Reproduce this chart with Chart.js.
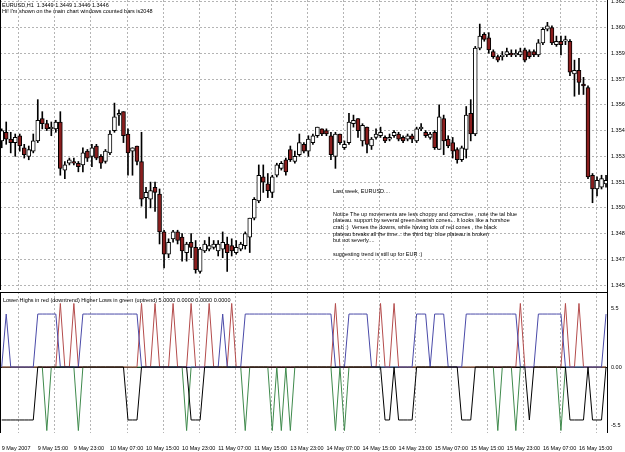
<!DOCTYPE html>
<html>
<head>
<meta charset="utf-8">
<script src="https://cdn.jsdelivr.net/npm/chart.js@4.4.0/dist/chart.umd.min.js"></script>
<style>
  html, body { margin: 0; padding: 0; background: #fff; }
  #wrap { position: relative; width: 625px; height: 452px; overflow: hidden; background: #fff; }
  #price { position: absolute; left: 0; top: 0; }
  #trend { position: absolute; left: 0; top: 290px; }
</style>
</head>
<body>
<div id="wrap">
  <canvas id="price" width="625" height="290"></canvas>
  <canvas id="trend" width="625" height="162"></canvas>
</div>
<script>
// EURUSD H1 candles, 9 May 07:00 .. 16 May 21:00
const opens = [
  1.3539, 1.3544, 1.3540, 1.3538, 1.3542, 1.3535, 1.3530, 1.3533, 1.3539, 1.3552,
  1.3549, 1.3546, 1.3546, 1.3550, 1.3522, 1.3526, 1.3527, 1.3526, 1.3525, 1.3533,
  1.3530, 1.3536, 1.3530, 1.3527, 1.3532, 1.3545, 1.3554, 1.3556, 1.3543, 1.3533,
  1.3536, 1.3527, 1.3506, 1.3505, 1.3512, 1.3508, 1.3486, 1.3473, 1.3482, 1.3486,
  1.3483, 1.3474, 1.3480, 1.3477, 1.3463, 1.3475, 1.3476, 1.3477, 1.3475, 1.3476,
  1.3479, 1.3478, 1.3474, 1.3476, 1.3478, 1.3483, 1.3494, 1.3504, 1.3518, 1.3514,
  1.3509, 1.3519, 1.3523, 1.3528, 1.3534, 1.3527, 1.3531, 1.3537, 1.3533, 1.3538,
  1.3542, 1.3546, 1.3545, 1.3542, 1.3530, 1.3543, 1.3535, 1.3538, 1.3549, 1.3552,
  1.3539, 1.3547, 1.3536, 1.3541, 1.3542, 1.3541, 1.3540, 1.3542, 1.3543, 1.3541,
  1.3540, 1.3542, 1.3539, 1.3546, 1.3544, 1.3541, 1.3544, 1.3534, 1.3552, 1.3540,
  1.3538, 1.3534, 1.3528, 1.3534, 1.3555, 1.3543, 1.3593, 1.3601, 1.3599, 1.3591,
  1.3588, 1.3588, 1.3589, 1.3590, 1.3589, 1.3589, 1.3592, 1.3591, 1.3591, 1.3589,
  1.3596, 1.3604, 1.3605, 1.3595, 1.3597, 1.3597, 1.3597, 1.3578, 1.3580, 1.3572,
  1.3570, 1.3519, 1.3511, 1.3512, 1.3514
];
const highs = [
  1.3546, 1.3550, 1.3544, 1.3543, 1.3543, 1.3537, 1.3536, 1.3543, 1.3563, 1.3556,
  1.3551, 1.3550, 1.3551, 1.3556, 1.3527, 1.3529, 1.3529, 1.3527, 1.3535, 1.3534,
  1.3537, 1.3537, 1.3531, 1.3534, 1.3545, 1.3561, 1.3557, 1.3556, 1.3546, 1.3535,
  1.3536, 1.3544, 1.3512, 1.3515, 1.3515, 1.3511, 1.3487, 1.3482, 1.3487, 1.3487,
  1.3485, 1.3480, 1.3485, 1.3481, 1.3477, 1.3481, 1.3483, 1.3481, 1.3481, 1.3486,
  1.3483, 1.3482, 1.3481, 1.3480, 1.3486, 1.3494, 1.3506, 1.3525, 1.3525, 1.3520,
  1.3519, 1.3526, 1.3527, 1.3529, 1.3536, 1.3533, 1.3543, 1.3538, 1.3542, 1.3543,
  1.3547, 1.3546, 1.3546, 1.3544, 1.3544, 1.3543, 1.3539, 1.3555, 1.3554, 1.3552,
  1.3549, 1.3547, 1.3541, 1.3546, 1.3547, 1.3542, 1.3543, 1.3545, 1.3544, 1.3542,
  1.3543, 1.3543, 1.3547, 1.3549, 1.3545, 1.3544, 1.3545, 1.3560, 1.3554, 1.3542,
  1.3541, 1.3535, 1.3536, 1.3559, 1.3563, 1.3594, 1.3607, 1.3602, 1.3602, 1.3592,
  1.3589, 1.3591, 1.3593, 1.3592, 1.3592, 1.3593, 1.3593, 1.3592, 1.3592, 1.3598,
  1.3605, 1.3608, 1.3606, 1.3600, 1.3600, 1.3600, 1.3598, 1.3586, 1.3587, 1.3576,
  1.3571, 1.3520, 1.3518, 1.3519, 1.3519
];
const lows = [
  1.3535, 1.3537, 1.3532, 1.3530, 1.3533, 1.3529, 1.3528, 1.3532, 1.3538, 1.3546,
  1.3545, 1.3542, 1.3544, 1.3519, 1.3517, 1.3525, 1.3525, 1.3521, 1.3521, 1.3527,
  1.3524, 1.3528, 1.3523, 1.3526, 1.3531, 1.3544, 1.3548, 1.3538, 1.3519, 1.3519,
  1.3525, 1.3501, 1.3494, 1.3500, 1.3498, 1.3479, 1.3465, 1.3471, 1.3480, 1.3479,
  1.3469, 1.3469, 1.3471, 1.3462, 1.3462, 1.3474, 1.3475, 1.3476, 1.3472, 1.3471,
  1.3463, 1.3472, 1.3473, 1.3475, 1.3476, 1.3474, 1.3493, 1.3503, 1.3509, 1.3506,
  1.3506, 1.3518, 1.3522, 1.3519, 1.3527, 1.3526, 1.3530, 1.3532, 1.3530, 1.3537,
  1.3541, 1.3542, 1.3542, 1.3528, 1.3523, 1.3537, 1.3534, 1.3537, 1.3547, 1.3541,
  1.3536, 1.3532, 1.3534, 1.3540, 1.3541, 1.3538, 1.3539, 1.3541, 1.3539, 1.3538,
  1.3539, 1.3538, 1.3538, 1.3545, 1.3541, 1.3540, 1.3534, 1.3534, 1.3531, 1.3535,
  1.3529, 1.3526, 1.3527, 1.3529, 1.3539, 1.3542, 1.3592, 1.3597, 1.3590, 1.3587,
  1.3585, 1.3586, 1.3588, 1.3588, 1.3588, 1.3588, 1.3585, 1.3587, 1.3588, 1.3588,
  1.3595, 1.3603, 1.3595, 1.3594, 1.3589, 1.3595, 1.3577, 1.3565, 1.3566, 1.3566,
  1.3517, 1.3503, 1.3507, 1.3511, 1.3512
];
const closes = [
  1.3545, 1.3540, 1.3538, 1.3541, 1.3536, 1.3531, 1.3534, 1.3539, 1.3551, 1.3549,
  1.3546, 1.3547, 1.3550, 1.3523, 1.3525, 1.3528, 1.3526, 1.3524, 1.3532, 1.3529,
  1.3535, 1.3529, 1.3526, 1.3533, 1.3543, 1.3553, 1.3555, 1.3542, 1.3532, 1.3535,
  1.3527, 1.3505, 1.3509, 1.3510, 1.3509, 1.3486, 1.3473, 1.3480, 1.3486, 1.3481,
  1.3475, 1.3479, 1.3477, 1.3464, 1.3476, 1.3479, 1.3478, 1.3479, 1.3479, 1.3480,
  1.3474, 1.3475, 1.3477, 1.3479, 1.3485, 1.3494, 1.3505, 1.3519, 1.3515, 1.3510,
  1.3518, 1.3525, 1.3526, 1.3521, 1.3528, 1.3530, 1.3538, 1.3533, 1.3540, 1.3542,
  1.3547, 1.3543, 1.3543, 1.3531, 1.3543, 1.3538, 1.3537, 1.3550, 1.3551, 1.3545,
  1.3548, 1.3537, 1.3540, 1.3543, 1.3544, 1.3539, 1.3541, 1.3544, 1.3540, 1.3539,
  1.3542, 1.3540, 1.3546, 1.3547, 1.3542, 1.3543, 1.3535, 1.3553, 1.3539, 1.3536,
  1.3533, 1.3528, 1.3535, 1.3554, 1.3543, 1.3593, 1.3600, 1.3598, 1.3592, 1.3588,
  1.3586, 1.3589, 1.3591, 1.3589, 1.3590, 1.3591, 1.3586, 1.3588, 1.3589, 1.3596,
  1.3604, 1.3606, 1.3596, 1.3597, 1.3595, 1.3598, 1.3579, 1.3580, 1.3573, 1.3571,
  1.3518, 1.3511, 1.3516, 1.3517, 1.3516
];

// indicator buffers (blue = up plateau, black = down plateau, red / green = cones)
const bluePlateau = [
  0, 5, 0, 0, 0, 0, 0, 0, 5, 5,   5, 5, 5, 0, 0, 0, 0, 0, 5, 5,
  5, 5, 5, 5, 5, 5, 5, 5, 5, 5,   5, 0, 0, 0, 0, 0, 0, 0, 0, 0,
  0, 0, 0, 0, 0, 0, 0, 0, 0, 5,   0, 0, 0, 0, 5, 5, 5, 5, 5, 5,
  5, 5, 5, 5, 5, 5, 5, 5, 5, 5,   5, 5, 5, 5, 0, 0, 0, 5, 5, 5,
  5, 5, 0, 0, 0, 0, 0, 0, 0, 0,   0, 0, 5, 5, 5, 0, 5, 5, 5, 0,
  0, 0, 0, 5, 5, 5, 5, 5, 5, 5,   5, 5, 5, 5, 5, 0, 0, 0, 0, 5,
  5, 5, 5, 5, 5, 0, 0, 0, 0, 0,   0, 0, 0, 0, 5
];
const redCones = [
  0, 0, 0, 0, 0, 0, 0, 0, 0, 0,   0, 0, 0, 6, 0, 0, 6, 0, 0, 0,
  0, 0, 0, 0, 0, 0, 0, 0, 0, 0,   0, 6, 0, 0, 6, 0, 0, 0, 6, 0,
  0, 0, 6, 0, 0, 0, 6, 0, 0, 0,   0, 6, 0, 0, 0, 0, 0, 0, 0, 0,
  0, 0, 0, 0, 0, 0, 0, 0, 0, 0,   0, 0, 0, 0, 6, 0, 0, 0, 0, 0,
  0, 0, 0, 0, 6, 0, 0, 6, 0, 0,   0, 0, 0, 0, 0, 0, 0, 0, 0, 0,
  0, 0, 0, 0, 0, 0, 0, 0, 0, 0,   0, 0, 0, 0, 0, 6, 0, 0, 0, 0,
  0, 0, 0, 0, 0, 6, 0, 0, 6, 0,   0, 0, 0, 0, 0
];
const greenCones = [
  0, 0, 0, 0, 0, 0, 0, 0, 0, 0,  -6, 0, 0, 0, 0, 0, 0,-6, 0, 0,
  0, 0, 0, 0, 0, 0, 0, 0, 0, 0,   0, 0, 0, 0, 0, 0, 0, 0, 0, 0,
  0,-6, 0, 0, 0, 0, 0, 0, 0, 0,   0, 0, 0, 0,-6, 0, 0, 0, 0, 0,
 -6, 0,-6, 0,-6, 0, 0, 0, 0, 0,   0, 0, 0, 0,-6, 0,-6, 0, 0, 0,
  0, 0, 0, 0, 0, 0, 0, 0, 0, 0,   0, 0, 0, 0, 0, 0, 0, 0, 0, 0,
  0, 0, 0, 0, 0, 0, 0, 0, 0, 0,  -6, 0, 0, 0,-6, 0, 0, 0, 0, 0,
  0, 0, 0, 0,-6, 0, 0, 0, 0, 0,   0, 0, 0, 0, 0
];
const blackPlateau = [
 -5,-5,-5,-5,-5,-5,-5,-5, 0, 0,   0, 0, 0, 0, 0, 0, 0, 0, 0, 0,
  0, 0, 0, 0, 0, 0, 0, 0,-5,-5,  -5, 0, 0, 0, 0, 0, 0, 0, 0, 0,
  0, 0,-5,-5,-5, 0, 0, 0, 0, 0,   0, 0, 0, 0, 0, 0, 0, 0, 0, 0,
  0, 0, 0, 0, 0, 0, 0, 0, 0, 0,   0, 0, 0, 0, 0, 0, 0, 0, 0, 0,
  0, 0, 0, 0, 0,-5,-5, 0,-5,-5,  -5,-5, 0, 0, 0, 0, 0, 0, 0, 0,
  0, 0,-5,-5,-5, 0, 0, 0, 0, 0,   0, 0, 0, 0, 0, 0, 0,-5, 0, 0,
  0, 0, 0, 0, 0, 0,-5,-5,-5,-5,   0,-5,-5,-5, 0
];

const timeLabels = [
  '9 May 2007', '9 May 15:00', '9 May 23:00', '10 May 07:00', '10 May 15:00',
  '10 May 23:00', '11 May 07:00', '11 May 15:00', '13 May 23:00', '14 May 07:00',
  '14 May 15:00', '14 May 23:00', '15 May 07:00', '15 May 15:00', '15 May 23:00',
  '16 May 07:00', '16 May 15:00'
];
const priceTicks = [1.3455, 1.3470, 1.3485, 1.3500, 1.3515, 1.3530, 1.3545, 1.3560, 1.3575, 1.3590, 1.3605, 1.3620];
const trendTicks = [5.5, 0, -5.5];
const trendTickLabels = ['5.5', '0.00', '-5.5'];

const headerLines = [
  'EURUSD,H1  1.3449 1.3449 1.3446 1.3446',
  "Hi! I'm shown on the main chart windows counted bars is2048"
];
const trendTitle = 'Lower Highs in red (downtrend) Higher Lows in green (uptrend) 5.0000 0.0000 0.0000 0.0000';
const noteLines = [
  ['Last week, EURUSD....', 191],
  ['Notice The up movements are less choppy and corrective , note the tal blue', 214],
  ['plateau. support by several green bearish cones... It looks like a horshoe', 220.7],
  ['crab :)  Verses the downs, while having lots of red cones , the black', 227.4],
  ['plateau breaks all the time... the third big  blue plateau is broken', 234.1],
  ['but not severly....', 240.8],
  ['suggesting trend is still up for EUR :)', 254]
];

// layout constants
const FONT = '"Liberation Sans", Arial, sans-serif';
const BAR_STEP = 4.51;
const AXIS_W = 17;
const X_MIN = -1.7 / BAR_STEP;
const X_MAX = X_MIN + (625 - AXIS_W) / BAR_STEP;
const GRID_SHIFT = 3.8;
const LABEL_EVERY = 8;

Chart.defaults.font.family = FONT;
Chart.defaults.font.size = 5.5;
Chart.defaults.color = '#000';

const gridTicks = [];
for (let v = GRID_SHIFT; v < X_MAX; v += LABEL_EVERY) gridTicks.push(v);

const bodies = opens.map((o, i) => ({ x: i, y: [o, closes[i]] }));
const wicks = highs.map((h, i) => ({ x: i, y: [lows[i], h] }));
const bodyColors = opens.map((o, i) => (closes[i] >= o ? '#ffffff' : '#8b1e1e'));

const frame = {
  id: 'frame',
  afterDraw(chart, args, opts) {
    const { ctx, chartArea: a } = chart;
    ctx.save();
    ctx.strokeStyle = '#000';
    ctx.lineWidth = 1;
    ctx.beginPath();
    ctx.moveTo(0.5, a.top);
    ctx.lineTo(0.5, a.bottom);
    ctx.moveTo(a.right - 0.5, 0);
    ctx.lineTo(a.right - 0.5, a.bottom);
    if (opts.top) {
      ctx.moveTo(0, a.top + 0.5);
      ctx.lineTo(a.right, a.top + 0.5);
    }
    ctx.stroke();
    ctx.restore();
  }
};

const priceText = {
  id: 'priceText',
  afterDraw(chart) {
    const { ctx } = chart;
    ctx.save();
    ctx.fillStyle = '#000';
    ctx.textBaseline = 'middle';
    ctx.font = '5.5px ' + FONT;
    ctx.fillText(headerLines[0], 2, 5);
    ctx.fillText(headerLines[1], 2, 11);
    noteLines.forEach(([text, y]) => ctx.fillText(text, 333, y));
    ctx.restore();
  }
};

const trendText = {
  id: 'trendText',
  afterDraw(chart) {
    const { ctx } = chart;
    ctx.save();
    ctx.fillStyle = '#000';
    ctx.textBaseline = 'middle';
    ctx.font = '5.5px ' + FONT;
    ctx.fillText(trendTitle, 3, 10);
    ctx.restore();
  }
};

new Chart(document.getElementById('price'), {
  type: 'bar',
  data: {
    datasets: [
      {
        label: 'Body',
        data: bodies,
        backgroundColor: bodyColors,
        borderColor: '#000',
        borderWidth: 1,
        borderSkipped: false,
        barThickness: 4,
        minBarLength: 1,
        grouped: false,
        order: 0
      },
      {
        label: 'Wick',
        data: wicks,
        backgroundColor: '#000',
        borderWidth: 0,
        barThickness: 1,
        grouped: false,
        order: 1
      }
    ]
  },
  options: {
    responsive: false,
    animation: false,
    layout: { padding: 0 },
    plugins: {
      legend: { display: false },
      tooltip: { enabled: false },
      frame: { top: false }
    },
    scales: {
      x: {
        type: 'linear',
        min: X_MIN,
        max: X_MAX,
        offset: false,
        afterBuildTicks: (s) => { s.ticks = gridTicks.map((v) => ({ value: v })); },
        afterFit: (s) => { s.height = 0; },
        ticks: { display: false },
        grid: { offset: false, color: '#b4b4b4', drawTicks: false },
        border: { display: false, dash: [2, 2] }
      },
      y: {
        position: 'right',
        min: 1.34522,
        max: 1.3621,
        afterBuildTicks: (s) => { s.ticks = priceTicks.map((v) => ({ value: v })); },
        afterFit: (s) => { s.width = AXIS_W; s.paddingTop = 0; s.paddingBottom = 0; },
        ticks: { padding: 3, callback: (v) => Number(v).toFixed(4) },
        grid: { color: '#b4b4b4', drawTicks: false },
        border: { display: false, dash: [2, 2] }
      }
    }
  },
  plugins: [frame, priceText]
});

const line = (label, values, color, order) => ({
  label,
  data: values.map((v, i) => ({ x: i, y: v })),
  borderColor: color,
  borderWidth: 1,
  pointRadius: 0,
  tension: 0,
  fill: false,
  order
});

new Chart(document.getElementById('trend'), {
  type: 'line',
  data: {
    datasets: [
      line('Up plateau', bluePlateau, '#4a4aa8', 1),
      line('Down plateau', blackPlateau, '#000000', 0),
      line('Lower highs', redCones, '#b44c4c', 2),
      line('Higher lows', greenCones, '#3f8a4c', 3)
    ]
  },
  options: {
    responsive: false,
    animation: false,
    layout: { padding: { top: 2 } },
    plugins: {
      legend: { display: false },
      tooltip: { enabled: false },
      frame: { top: true }
    },
    scales: {
      x: {
        type: 'linear',
        min: X_MIN,
        max: X_MAX,
        offset: false,
        afterBuildTicks: (s) => {
          s.ticks = timeLabels.map((t, k) => ({ value: k * LABEL_EVERY }));
        },
        afterFit: (s) => { s.height = 19; s.paddingLeft = 0; s.paddingRight = 0; },
        ticks: {
          autoSkip: false,
          maxRotation: 0,
          align: 'start',
          padding: 4,
          callback: (v) => timeLabels[Math.round(v / LABEL_EVERY)]
        },
        grid: { display: false },
        border: { display: false }
      },
      xg: {
        type: 'linear',
        position: 'top',
        min: X_MIN,
        max: X_MAX,
        offset: false,
        afterBuildTicks: (s) => { s.ticks = gridTicks.map((v) => ({ value: v })); },
        afterFit: (s) => { s.height = 0; },
        ticks: { display: false },
        grid: { color: '#b4b4b4', drawTicks: false },
        border: { display: false, dash: [2, 2] }
      },
      y: {
        position: 'right',
        min: -6.23,
        max: 7.08,
        afterBuildTicks: (s) => { s.ticks = trendTicks.map((v) => ({ value: v })); },
        afterFit: (s) => { s.width = AXIS_W; s.paddingTop = 0; s.paddingBottom = 0; },
        ticks: {
          padding: 3,
          callback: (v) => trendTickLabels[trendTicks.indexOf(v)]
        },
        grid: {
          drawTicks: false,
          color: (c) => (c.tick && c.tick.value === 0 ? '#000' : 'rgba(0,0,0,0)')
        },
        border: { display: false }
      }
    }
  },
  plugins: [frame, trendText]
});
</script>
</body>
</html>
